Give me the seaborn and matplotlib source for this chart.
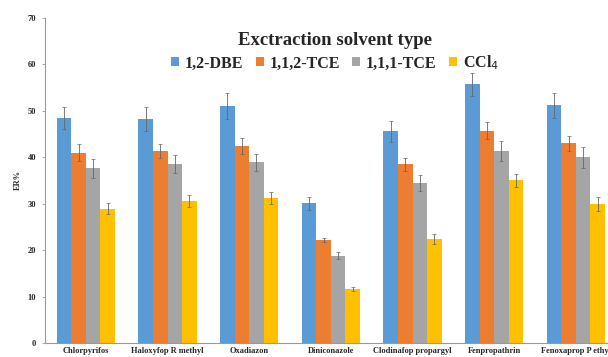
import numpy as np
import pandas as pd
import matplotlib
matplotlib.use("Agg")
import matplotlib.pyplot as plt
import seaborn as sns

pesticides = ["Chlorpyrifos", "Haloxyfop R methyl", "Oxadiazon", "Diniconazole",
              "Clodinafop propargyl", "Fenpropathrin", "Fenoxaprop P ethyl"]
solvents = ["1,2-DBE", "1,1,2-TCE", "1,1,1-TCE", "CCl$_4$"]

dbe = [48.4, 48.3, 51.0, 30.1, 45.6, 55.7, 51.2]
tce112 = [41.0, 41.4, 42.5, 22.2, 38.5, 45.7, 43.0]
tce111 = [37.6, 38.6, 38.9, 18.8, 34.5, 41.4, 40.0]
ccl4 = [28.9, 30.6, 31.2, 11.6, 22.4, 35.1, 30.0]

dbe_err = [2.4, 2.6, 2.8, 1.4, 2.3, 2.5, 2.7]
tce112_err = [1.8, 1.5, 1.7, 0.5, 1.4, 1.8, 1.6]
tce111_err = [2.1, 2.0, 1.8, 0.7, 1.7, 2.1, 2.2]
ccl4_err = [1.2, 1.3, 1.3, 0.4, 1.1, 1.4, 1.5]

colors = ["#5B9BD5", "#ED7D31", "#A5A5A5", "#FFC000"]

series = [dbe, tce112, tce111, ccl4]
errors = [dbe_err, tce112_err, tce111_err, ccl4_err]
rows = []
for s, vals in zip(solvents, series):
    for p, v in zip(pesticides, vals):
        rows.append({"Pesticide": p, "Solvent": s, "ER": v})
df = pd.DataFrame(rows)

sns.set_style("white")
plt.rcParams["font.family"] = ["Liberation Serif", "DejaVu Serif"]

fig = plt.figure(figsize=(6.08, 3.57), dpi=100)
ax = fig.add_axes([45 / 608, 1 - 343 / 357, 7 * 81.67 / 608, (343 - 18) / 357])

sns.barplot(data=df, x="Pesticide", y="ER", hue="Solvent", order=pesticides,
            hue_order=solvents, palette=colors, errorbar=None, width=0.715,
            saturation=1, linewidth=0, ax=ax, legend=True)

for cont, errs in zip(ax.containers, errors):
    xs = [b.get_x() + b.get_width() / 2 for b in cont]
    ys = [b.get_height() for b in cont]
    ax.errorbar(xs, ys, yerr=errs, fmt="none", ecolor="#666666", elinewidth=0.6,
                capsize=1.2, capthick=0.5, zorder=5)

ax.set_ylim(0, 70)
ax.set_xlim(-0.5, 6.5)
ax.set_yticks(range(0, 71, 10))
ax.set_ylabel("ER%", fontsize=6, fontweight="bold", labelpad=4)
ax.set_xlabel("")
ax.tick_params(axis="y", labelsize=6, length=2.5, width=0.6, color="#999999", pad=4, left=True)
ax.tick_params(axis="x", labelsize=6, length=0, pad=3)
for lab in ax.get_yticklabels() + ax.get_xticklabels():
    lab.set_fontweight("bold")
for side in ["top", "right"]:
    ax.spines[side].set_visible(False)
for side in ["left", "bottom"]:
    ax.spines[side].set_color("#999999")
    ax.spines[side].set_linewidth(0.8)

handles, labels = ax.get_legend_handles_labels()
ax.get_legend().remove()
leg = fig.legend(handles, labels, loc="upper center", bbox_to_anchor=(0.551, 1 - 30 / 357),
                 ncol=4, frameon=False, title="Exctraction solvent type",
                 prop={"weight": "bold", "size": 11.5}, handlelength=0.5, handleheight=0.5,
                 handletextpad=0.35, columnspacing=0.8, borderaxespad=0, borderpad=0.1,
                 labelspacing=0.3)
leg.get_title().set_fontweight("bold")
leg.get_title().set_fontsize(13.5)

fig.savefig("out.png", dpi=100)
